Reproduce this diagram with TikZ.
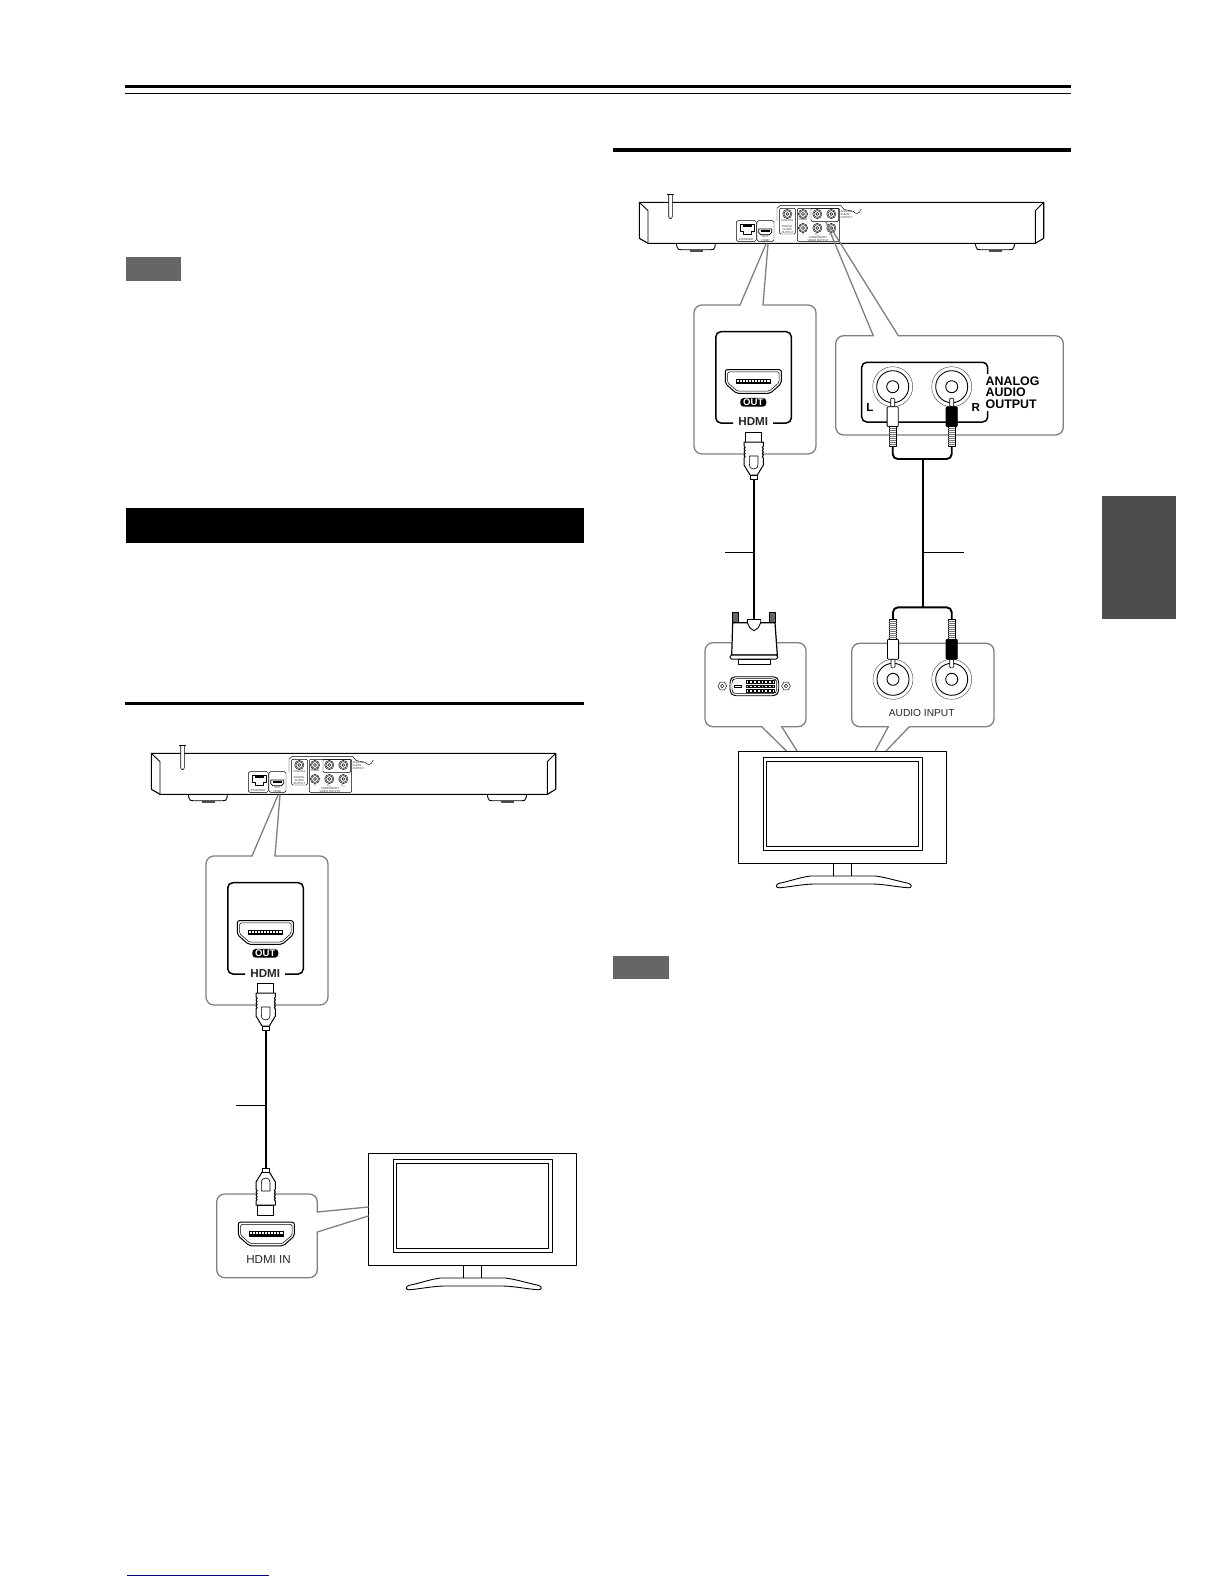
\documentclass[tikz,border=0pt]{standalone}
\usepackage{fontspec}
\setmainfont{Liberation Sans}
\begin{document}
\begin{tikzpicture}[x=1pt,y=-1pt,line join=round,
  callout/.style={draw=black!50,line width=1.3pt,line cap=round},
  bubble/.style={callout,rounded corners=8pt},
  cable/.style={line width=1.9pt,black},
  stub/.style={line width=.8pt,black},
  pl/.style={line width=.9pt,black},
  thinpl/.style={line width=.45pt,black},
  txt/.style={inner sep=0pt,text=black!85},
  boldtxt/.style={inner sep=0pt,font=\bfseries\fontsize{11.6}{12}\selectfont,text=black!85},
  micro/.style={inner sep=0pt,font=\fontsize{2.8}{3}\selectfont,text=black!80},
  pics/jack/.style={code={
    \draw[thinpl,black!70] (0,0) circle (20);
    \draw[pl] (0,0) circle (16);
    \draw[pl] (0,0) circle (6);}},
  pics/minijack/.style={code={
    \draw[thinpl] (0,0) circle (4.6);
    \draw[thinpl] (0,0) circle (3.4);
    \draw[thinpl] (0,0) circle (1.5);}},
  pics/tvset/.style={code={
    \draw[pl,fill=white] (0,0) rectangle (208.4,112);
    \draw[pl] (25,6) rectangle (184,99);
    \draw[pl] (28,10) rectangle (180.4,95.4);
    \draw[pl] (95,112) -- (95,124.7);
    \draw[pl] (113.4,112) -- (113.4,124.7);
    \draw[pl] (72,124.7) -- (137,124.7) .. controls (148,126) and (160,130) .. (170,132)
      .. controls (174,133) and (174,136.5) .. (170,136.5)
      .. controls (158,135.5) and (146,133) .. (135,132.7) -- (75,132.7)
      .. controls (64,133) and (52,135.5) .. (41,136.5)
      .. controls (37,136.5) and (37,133) .. (41,132)
      .. controls (51,130) and (62,126) .. (72,124.7);}},
  pics/hdmiport/.style={code={
    \draw[line width=1pt,fill=white,rounded corners=2pt] (-28,-11.8) -- (28,-11.8) -- (28,2) -- (17,11.8) -- (-17,11.8) -- (-28,2) -- cycle;
    \draw[line width=.5pt,rounded corners=1.5pt] (-25.8,-9.6) -- (25.8,-9.6) -- (25.8,1) -- (16,9.6) -- (-16,9.6) -- (-25.8,1) -- cycle;
    \draw[line width=.5pt] (-16.7,-2.5) rectangle (16.7,2.2);
    \fill (-16.7,.4) rectangle (16.7,2.2);
    \foreach \k in {-14,-11,...,14} {\draw[line width=.5pt] (\k,-2.5) -- (\k,.4);}}},
  pics/hdmiplug/.style={code={
    \draw[pl,fill=white] (-8,-47) rectangle (8,-37);
    \draw[pl,fill=white,line width=1pt] (-9.7,-37) -- (9.7,-37) -- (9.7,-33)
      .. controls (8.2,-31.5) .. (9.7,-30) .. controls (8.2,-28.5) .. (9.7,-27)
      .. controls (8.2,-25.5) .. (9.7,-24) .. controls (8.2,-22.5) .. (9.7,-21) -- (9.7,-14) -- (3.6,-4)
      -- (-3.6,-4) -- (-9.7,-14) -- (-9.7,-21) .. controls (-8.2,-22.5) .. (-9.7,-24)
      .. controls (-8.2,-25.5) .. (-9.7,-27) .. controls (-8.2,-28.5) .. (-9.7,-30)
      .. controls (-8.2,-31.5) .. (-9.7,-33) -- cycle;
    \draw[line width=.6pt] (-4.3,-23) -- (4.3,-23) -- (4.3,-15) .. controls (4.3,-11) and (2,-10) .. (0,-10)
      .. controls (-2,-10) and (-4.3,-11) .. (-4.3,-15) -- cycle;
    \draw[line width=.8pt,fill=white] (-3.6,-4) rectangle (3.6,0);}},
  pics/rcaplug/.style={code={
    \draw[line width=.6pt,fill=white,rounded corners=1pt] (-2,11.5) rectangle (2,20);
    \draw[line width=.8pt,fill=#1,rounded corners=1pt] (-5.6,20) rectangle (5.6,40);
    \draw[line width=.7pt,fill=white] (-3.7,40) rectangle (3.7,60);
    \foreach \k in {42,44,...,58} {\draw[line width=.5pt,black!55] (-3.7,\k) -- (3.7,\k);}}},
  pics/screw/.style={code={
    \draw[thinpl,fill=white] (-4.4,0) -- (-2.2,-3.9) -- (2.2,-3.9) -- (4.4,0) -- (2.2,3.9) -- (-2.2,3.9) -- cycle;
    \draw[thinpl] (0,0) circle (1.8);}},
  pics/playerunit/.style={code={
    % feet
    \draw[pl] (188.3,794.3) -- (189,798) .. controls (189.5,800.5) and (191,800.7) .. (193,800.7) -- (223,800.7)
       .. controls (225,800.7) and (226.5,800.5) .. (227,798) -- (227.3,794.3);
    \draw[line width=1.4pt,black!70] (201.7,801.8) -- (215,801.8);
    \draw[pl] (487.3,794.3) -- (488,798) .. controls (488.5,800.5) and (490,800.7) .. (492,800.7) -- (522,800.7)
       .. controls (524,800.7) and (525.5,800.5) .. (526,798) -- (526.7,794.3);
    \draw[line width=1.4pt,black!70] (500.7,801.8) -- (514,801.8);
    % body
    \draw[line width=1.1pt,fill=white] (151.3,753.3) -- (555.7,753.3) -- (555.7,789.3) -- (547.3,794.3) -- (160,794.3) -- (151.3,789.3) -- cycle;
    \draw[pl] (151.3,753.3) -- (160,761.7) -- (160,794.3);
    \draw[pl] (555.7,753.3) -- (547.3,761.7) -- (547.3,794.3);
    % cord
    \draw[line width=.6pt,fill=white] (180.7,745.7) -- (180.7,767.5) .. controls (180.7,770.3) and (184.3,770.3) .. (184.3,767.5) -- (184.3,745.7);
    \draw[thinpl] (179,745.7) -- (186,745.7);
    % recessed panel
    \draw[thinpl] (289,772) -- (289,759) -- (292,756.7) -- (353,756.7) -- (356,760.5) -- (365,762.3)
       .. controls (368,765.5) and (371,765.5) .. (373.3,760);
    % ethernet
    \draw[thinpl,rounded corners=1.5pt] (248.3,771.7) rectangle (268.3,792.3);
    \draw[line width=.7pt,fill=white] (252.7,775) -- (266,775) -- (266,782) -- (263.5,782) -- (263.5,785) -- (255.2,785) -- (255.2,782) -- (252.7,782) -- cycle;
    \fill (254.5,775) rectangle (264.2,778);
    \node[micro] (ethtxt) at (258.3,790.6) {ETHERNET};
    % hdmi
    \draw[thinpl,rounded corners=1.5pt] (269,771.7) rectangle (286,792.3);
    \draw[line width=.7pt,fill=white] (270.7,780) -- (283.7,780) -- (283.7,783.5) -- (281.5,785.7) -- (272.9,785.7) -- (270.7,783.5) -- cycle;
    \fill (272.5,781.3) rectangle (282,783);
    \node[micro] (outtxt) at (277.3,787.8) {OUT};
    \node[micro] (hdmitxt) at (277.3,791.3) {HDMI};
    % digital
    \draw[thinpl,rounded corners=1pt] (291.7,759.3) rectangle (307.3,785);
    \pic at (299.3,765) {minijack};
    \node[micro] (coaxtxt) at (299.3,771.8) {COAXIAL};
    \node[micro,align=center] (digtxt) at (299.3,780.5) {DIGITAL\\AUDIO\\OUTPUT};
    % video / component
    \draw[thinpl,rounded corners=1pt] (309.3,759.3) rectangle (351.7,792.3);
    \draw[thinpl,rounded corners=1pt] (323,759.3) rectangle (350.7,772.3);
    \pic at (315,765) {minijack};
    \pic at (329.3,765) {minijack};
    \pic at (343.3,765) {minijack};
    \pic at (315,779) {minijack};
    \pic at (329.3,779) {minijack};
    \pic at (343.3,779) {minijack};
    \node[micro] (vidtxt) at (315,771) {VIDEO};
    \node[micro] (ytxt) at (315,785.6) {Y};
    \node[micro] (pbtxt) at (329.3,785.6) {P\textsubscript{B}};
    \node[micro] (prtxt) at (343.3,785.6) {P\textsubscript{R}};
    \node[micro,align=center] (comptxt) at (330,789.8) {COMPONENT\\VIDEO OUTPUT};
    \node[micro,align=left,anchor=west] (anatxt) at (352.5,765.5) {ANALOG\\AUDIO\\OUTPUT};}},
  pics/hdmigroup/.style={code={
    \pic {playerunit};
    \draw[callout] (278,795) -- (252,856);
    \draw[callout] (280,795) -- (275,856);
    \draw[bubble] (252,856) -- (206,856) -- (206,1005) -- (328,1005) -- (328,856) -- (275,856);
    \draw[line width=1.5pt,rounded corners=5pt] (245,974) -- (227.8,974) -- (227.8,882.7) -- (303.3,882.7) -- (303.3,974) -- (285,974);
    \pic at (265.3,932.5) {hdmiport};
    \node[fill=black,rounded corners=3.5pt,minimum width=26pt,minimum height=8.8pt,inner sep=0pt,
          text=white,font=\bfseries\fontsize{9.6}{10}\selectfont] (outpill) at (265.3,953.3) {OUT};
    \node[boldtxt] (hdmiout) at (265.3,973) {HDMI};}}
]
\useasboundingbox (0,0) rectangle (1224,1584);
\fill[white] (0,0) rectangle (1224,1584);

% page furniture
\fill[black] (125,85) rectangle (1071,88.3);
\fill[black] (125,93) rectangle (1071,94.3);
\fill[black] (613,148) rectangle (1071,151.5);
\fill[black!60] (126,257) rectangle (181,280.7);
\fill[black] (126,508) rectangle (583.5,543);
\fill[black] (125,702) rectangle (583.5,705);
\fill[black!60] (613,956) rectangle (669,979);
\fill[black!70] (1102,496) rectangle (1175.7,619);
\draw[line width=1.2pt,draw={rgb,255:red,0;green,0;blue,128}] (127,1575.3) -- (269,1575.3);

% ---- left figure ----
\pic at (0,0) {hdmigroup};
\coordinate (plugAout) at (265.7,1030);
\coordinate (plugBout) at (265.7,1168);
\draw[cable] (plugAout) -- (plugBout);
\coordinate (stubA) at (236,1105);
\draw[stub] (stubA) -- (stubA -| plugAout);
\pic at (plugAout) {hdmiplug};

\draw[bubble] (317.3,1212) -- (317.3,1194) -- (216.7,1194) -- (216.7,1277.7) -- (317.3,1277.7) -- (317.3,1232);
\pic at (368.3,1153.3) {tvset};
\draw[callout] (317.3,1212) -- (368.3,1207);
\draw[callout] (317.3,1232) -- (368.3,1216);
\pic[yscale=-1] at (plugBout) {hdmiplug};
\pic at (266.3,1234) {hdmiport};
\node[txt,font=\fontsize{11.6}{12}\selectfont] (hdmiin) at (268.5,1259) {HDMI IN};

% ---- right figure ----
\pic at (488,-551) {hdmigroup};
\coordinate (plugCout) at (753.7,479);
\coordinate (dviIn) at (753.7,619);
\draw[cable] (plugCout) -- (dviIn);
\coordinate (stubC) at (725,552);
\draw[stub] (stubC) -- (stubC -| plugCout);
\pic at (plugCout) {hdmiplug};

% analog output bubble
\draw[callout] (826,222) -- (873.3,335.7);
\draw[callout] (829,225) -- (898.3,335.7);
\draw[bubble] (873.3,335.7) -- (835.7,335.7) -- (835.7,435) -- (1063.3,435) -- (1063.3,335.7) -- (898.3,335.7);
\draw[line width=1.5pt,rounded corners=5pt] (987.7,374) -- (987.7,362.3) -- (861.7,362.3) -- (861.7,422) -- (987.7,422) -- (987.7,411);
\pic at (892.7,386.7) {jack};
\pic at (951.7,386.7) {jack};
\node[inner sep=0pt,font=\bfseries\fontsize{11.6}{12}\selectfont] (ltxt) at (870,407.5) {L};
\node[inner sep=0pt,font=\bfseries\fontsize{11.6}{12}\selectfont] (rtxt) at (975.7,407.5) {R};
\node[inner sep=0pt,anchor=west,font=\bfseries\fontsize{12.4}{12}\selectfont] (ana1) at (985.5,381.2) {ANALOG};
\node[inner sep=0pt,anchor=west,font=\bfseries\fontsize{12.4}{12}\selectfont] (ana2) at (985.5,392.5) {AUDIO};
\node[inner sep=0pt,anchor=west,font=\bfseries\fontsize{12.4}{12}\selectfont] (ana3) at (985.5,403.8) {OUTPUT};
\pic at (892.7,386.7) {rcaplug=white};
\pic at (951.7,386.7) {rcaplug=black};

% harness
\coordinate (rcaLU) at (892.7,446.7);
\coordinate (rcaRU) at (951.7,446.7);
\coordinate (jU) at (922.7,459);
\coordinate (jL) at (922.7,607.3);
\coordinate (rcaLD) at (893,619.3);
\coordinate (rcaRD) at (951.7,619.3);
\draw[cable,rounded corners=5pt] (rcaLU) |- (jU) -| (rcaRU);
\draw[cable] (jU) -- (jL);
\draw[cable,rounded corners=5pt] (rcaLD) |- (jL) -| (rcaRD);
\coordinate (stubD) at (964,552);
\draw[stub] (stubD) -- (stubD -| jU);

% DVI bubble
\draw[bubble] (761.7,726.7) -- (705,726.7) -- (705,642.7) -- (806,642.7) -- (806,726.7) -- (781.7,726.7);
\draw[callout] (761.7,726.7) -- (786.7,751.3);
\draw[callout] (781.7,726.7) -- (797.3,751.3);
\draw[pl,fill=white] (738.3,659) rectangle (770,664);
\draw[line width=1.2pt,fill=white] (732.7,622.7) -- (775,622.7) -- (777.3,655) -- (731.7,655) -- cycle;
\draw[line width=.8pt,fill=black!60] (732.7,612.7) rectangle (738.7,622.7);
\draw[line width=.8pt,fill=black!60] (769.3,612.7) rectangle (775.3,622.7);
\draw[pl,fill=white] (747.3,622.7) -- (747.3,619.5) -- (760.7,619.5) -- (760.7,622.7) -- (758,628) -- (754,630.7) -- (750,628) -- cycle;
\draw[line width=1pt,fill=white,rounded corners=1.5pt] (730,655) rectangle (777.7,659);
% DVI socket
\draw[line width=.9pt,fill=white,rounded corners=3pt] (733,676.7) -- (775.7,676.7) -- (778.7,680) -- (778.7,692) -- (775.7,695.7) -- (733,695.7) -- (730,692) -- (730,680) -- cycle;
\draw[thinpl,rounded corners=2.5pt] (734,678.7) -- (774.7,678.7) -- (776.7,681) -- (776.7,691) -- (774.7,693.7) -- (734,693.7) -- (732,691) -- (732,681) -- cycle;
\draw[line width=.7pt] (734.3,685) rectangle (741.7,687.6);
\foreach \c in {0,...,7} {\foreach \r in {0,1,2} {\draw[line width=.5pt] (746+\c*3.7,680+\r*4.8) rectangle ++(2.7,2.8);}}
\pic at (722.3,686) {screw};
\pic at (786,686) {screw};

% audio input bubble
\draw[bubble] (888.3,726.7) -- (851.7,726.7) -- (851.7,643.3) -- (994,643.3) -- (994,726.7) -- (909.3,726.7);
\draw[callout] (888.3,726.7) -- (875,751.3);
\draw[callout] (909.3,726.7) -- (885.7,751.3);
\pic at (893,679.3) {jack};
\pic at (951.7,679.3) {jack};
\pic[yscale=-1] at (893,679.3) {rcaplug=white};
\pic[yscale=-1] at (951.7,679.3) {rcaplug=black};
\node[txt,font=\fontsize{10.2}{11}\selectfont] (audioin) at (921.7,713.3) {AUDIO INPUT};

\pic at (738.3,751.3) {tvset};
\end{tikzpicture}
\end{document}
